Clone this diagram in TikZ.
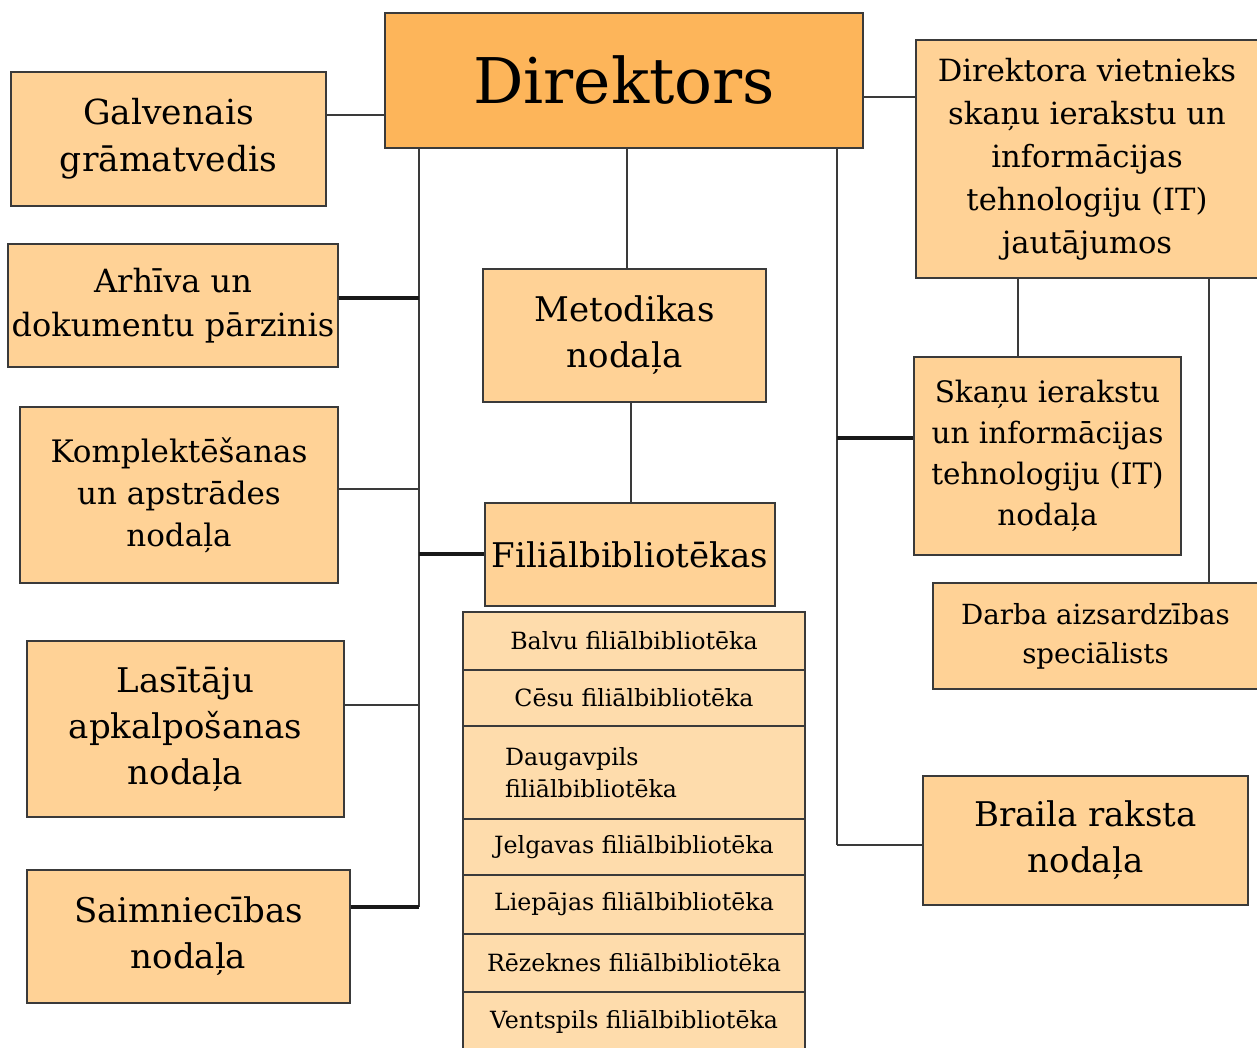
\documentclass[tikz,border=0pt]{standalone}
\usepackage{fontspec}
\setmainfont{DejaVu Serif}
\definecolor{dirc}{HTML}{FDB55A}
\definecolor{boxc}{HTML}{FFD296}
\definecolor{itemc}{HTML}{FEDCAC}
\definecolor{edgec}{HTML}{3A3A3A}
\begin{document}
\begin{tikzpicture}[x=1pt,y=-1pt,
  box/.style={draw=edgec, line width=1.4pt, fill=boxc, inner sep=0pt, align=center,
              font=\fontsize{34}{46}\selectfont},
  item/.style={draw=edgec, line width=1.4pt, fill=itemc, inner sep=0pt,
               minimum width=342pt, font=\fontsize{23.7}{32}\selectfont},
  ln/.style={draw=edgec, line width=1.8pt},
  thk/.style={draw=black!90, line width=3.4pt}]
\useasboundingbox (0,0) rectangle (1257,1047);
\fill[white] (0,0) rectangle (1257,1047);

% boxes
\node[box, fill=dirc, minimum width=478pt, minimum height=135pt, font=\fontsize{63}{70}\selectfont]
  (dir) at (624,80.5) {Direktors};
\node[box, minimum width=315pt, minimum height=134pt, font=\fontsize{34.5}{47}\selectfont]
  (galv) at (168.5,139) {Galvenais\\grāmatvedis};
\node[box, minimum width=330pt, minimum height=123pt, font=\fontsize{32}{44}\selectfont]
  (arh) at (173,305.5) {Arhīva un\\dokumentu pārzinis};
\node[box, minimum width=318pt, minimum height=176pt, font=\fontsize{31}{42}\selectfont]
  (kompl) at (179,495) {Komplektēšanas\\un apstrādes\\nodaļa};
\node[box, minimum width=317pt, minimum height=176pt] (lasit) at (185.5,729) {Lasītāju\\apkalpošanas\\nodaļa};
\node[box, minimum width=323pt, minimum height=133pt] (saim) at (188.5,936.5) {Saimniecības\\nodaļa};
\node[box, minimum width=283pt, minimum height=133pt] (metod) at (624.5,335.5) {Metodikas\\nodaļa};
\node[box, minimum width=290pt, minimum height=103pt]
  (fil) at (630,554.5) {Filiālbibliotēkas};
\node[box, minimum width=342pt, minimum height=238pt, font=\fontsize{30.6}{43}\selectfont]
  (viet) at (1087,159) {Direktora vietnieks\\skaņu ierakstu un\\informācijas\\tehnologiju (IT)\\jautājumos};
\node[box, minimum width=267pt, minimum height=198pt, font=\fontsize{29.5}{41}\selectfont]
  (skanu) at (1047.5,456) {Skaņu ierakstu\\un informācijas\\tehnologiju (IT)\\nodaļa};
\node[box, minimum width=325pt, minimum height=106pt, font=\fontsize{27.7}{39}\selectfont]
  (darba) at (1095.5,636) {Darba aizsardzības\\speciālists};
\node[box, minimum width=325pt, minimum height=129pt] (braila) at (1085.5,840.5) {Braila raksta\\nodaļa};

% branch library list
\node[item, minimum height=58pt] (r1) at (634,641) {Balvu filiālbibliotēka};
\node[item, minimum height=56pt] (r2) at (634,698) {Cēsu filiālbibliotēka};
\node[item, minimum height=93pt, align=left, inner xsep=42pt, text width=258pt]
  (r3) at (634,772.5) {Daugavpils\\filiālbibliotēka};
\node[item, minimum height=56pt] (r4) at (634,847) {Jelgavas filiālbibliotēka};
\node[item, minimum height=59pt] (r5) at (634,904.5) {Liepājas filiālbibliotēka};
\node[item, minimum height=58pt] (r6) at (634,963) {Rēzeknes filiālbibliotēka};
\node[item, minimum height=60pt] (r7) at (634,1022) {Ventspils filiālbibliotēka};

% connectors
\coordinate (L) at (419,907);
\coordinate (R) at (837,845);
\draw[ln] (galv.east |- 0,115) -- (dir.west |- 0,115);
\draw[ln, line width=2.6pt] (L |- dir.south) -- (L);
\draw[thk] (arh.east |- 0,298) -- (L |- 0,298);
\draw[ln] (kompl.east |- 0,489) -- (L |- 0,489);
\draw[thk] (L |- 0,554) -- (fil.west |- 0,554);
\draw[ln] (lasit.east |- 0,705) -- (L |- 0,705);
\draw[thk] (saim.east |- L) -- (L);
\draw[ln] (dir.south -| 627,0) -- (metod.north -| 627,0);
\draw[ln] (metod.south -| 631,0) -- (fil.north -| 631,0);
\draw[ln] (R |- dir.south) -- (R);
\draw[thk] (R |- 0,438) -- (skanu.west |- 0,438);
\draw[ln] (R) -- (braila.west |- R);
\draw[ln] (dir.east |- 0,97) -- (viet.west |- 0,97);
\draw[ln] (viet.south -| 1018,0) -- (skanu.north -| 1018,0);
\draw[ln] (viet.south -| 1209,0) -- (darba.north -| 1209,0);
\end{tikzpicture}
\end{document}
